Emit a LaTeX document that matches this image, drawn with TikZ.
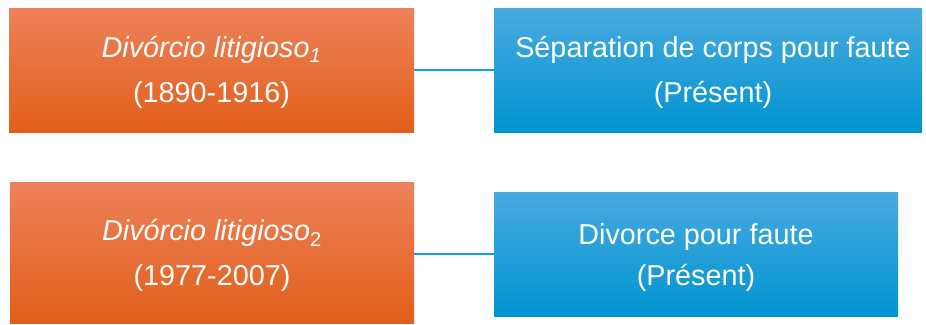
\documentclass[tikz,border=0pt]{standalone}
\usepackage{fontspec}
\setmainfont{Liberation Sans}
\definecolor{orTop}{RGB}{237,130,90}
\definecolor{orMid}{RGB}{240,112,44}
\definecolor{orBot}{RGB}{226,94,26}
\definecolor{blTop}{RGB}{72,170,224}
\definecolor{blMid}{RGB}{14,160,220}
\definecolor{blBot}{RGB}{0,148,208}
\definecolor{lineBlue}{RGB}{20,160,220}
\newcommand{\lift}[1]{\rule{0pt}{#1pt}}
\begin{document}
\begin{tikzpicture}[x=1pt,y=-1pt,
  box/.style={inner sep=0pt, outer sep=0pt, align=center, text=white, anchor=north west,
    font=\fontsize{28.8}{45}\selectfont},
  orbox/.style={box, top color=orTop, middle color=orMid, bottom color=orBot},
  blbox/.style={box, top color=blTop, middle color=blMid, bottom color=blBot},
  link/.style={draw=lineBlue, line width=1.2pt}]
\useasboundingbox (0,0) rectangle (926,324);
\node[orbox, minimum width=405pt, minimum height=124pt] (o1) at (9,8)
  {\lift{25.5}\textit{Divórcio litigioso\textsubscript{1}}\\(1890-1916)};
\node[blbox, minimum width=428pt, minimum height=124pt] (b1) at (494,8)
  {\lift{25.5}\hspace*{10pt}Séparation de corps pour faute\\\hspace*{10pt}(Présent)};
\node[orbox, minimum width=404pt, minimum height=141pt] (o2) at (10,182)
  {\lift{27.5}\textit{Divórcio litigioso}\textsubscript{2}\\(1977-2007)};
\node[blbox, minimum width=404pt, minimum height=124pt,
  font=\fontsize{28.8}{41}\selectfont] (b2) at (494,192)
  {\lift{27.5}Divorce pour faute\\(Présent)};
\draw[link] (o1.east) -- (b1.west);
\draw[link] (o2.east |- 0,254) -- (b2.west |- 0,254);
\end{tikzpicture}
\end{document}
